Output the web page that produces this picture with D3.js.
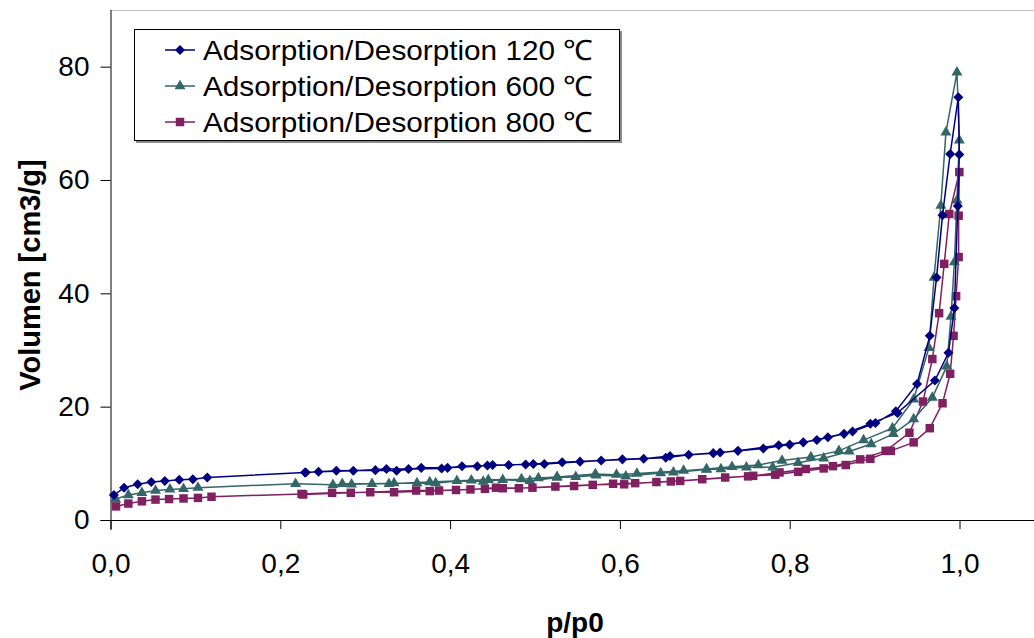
<!DOCTYPE html>
<html>
<head>
<meta charset="utf-8">
<style>
  body { margin: 0; background: #fff; }
  svg text { font-family: "Liberation Sans", Arial, sans-serif; }
</style>
<script src="https://d3js.org/d3.v7.min.js"></script>
</head>
<body>
<svg width="1034" height="638"></svg>
<script>
// series values (adsorption up, then desorption back down)
var p120 = [0.004,0.016,0.032,0.048,0.064,0.081,0.097,0.114,0.229,0.266,0.312,0.337,0.366,0.397,0.432,0.450,0.489,0.511,0.553,0.603,0.654,0.681,0.718,0.769,0.800,0.832,0.864,0.895,0.927,0.971,0.987,0.994,0.998,0.9998,0.9986,
            0.989,0.980,0.973,0.965,0.950,0.925,0.901,0.874,0.845,0.816,0.787,0.739,0.710,0.659,0.628,0.578,0.532,0.498,0.469,0.444,0.414,0.390,0.351,0.325,0.286,0.245,0.230];
var v120 = [4.4,5.7,6.3,6.7,6.9,7.1,7.2,7.5,8.4,8.7,8.8,8.7,9.2,9.2,9.5,9.7,9.8,9.9,10.3,10.7,11.0,11.5,11.9,12.6,13.3,14.1,15.2,17.0,18.9,24.6,29.5,37.4,55.4,64.5,74.6,
            64.6,53.8,42.8,32.5,24.0,19.2,17.1,15.6,14.6,13.7,13.2,12.2,11.8,11.3,10.8,10.5,10.2,9.9,9.7,9.6,9.5,9.1,9.0,9.0,8.7,8.5,8.4];

var p600 = [0.006,0.021,0.037,0.053,0.070,0.086,0.103,0.218,0.262,0.284,0.308,0.334,0.361,0.383,0.408,0.439,0.462,0.494,0.526,0.548,0.572,0.607,0.648,0.663,0.702,0.719,0.749,0.780,0.810,0.840,0.870,0.896,0.922,0.946,0.968,0.985,0.990,0.994,0.997,0.9998,0.997,
            0.984,0.978,0.970,0.964,0.946,0.921,0.887,0.858,0.825,0.791,0.763,0.732,0.702,0.675,0.620,0.596,0.571,0.526,0.504,0.484,0.445,0.425,0.376,0.328,0.273];
var v600 = [3.7,4.4,4.8,5.2,5.4,5.5,5.7,6.4,6.2,6.3,6.4,6.5,6.5,6.5,6.9,6.8,7.1,6.9,7.5,7.6,7.9,7.7,8.3,8.4,8.9,9.0,9.3,9.3,10.1,10.9,12.1,13.4,15.2,17.8,21.6,27.1,35.9,45.5,56.4,67.0,79.0,
            68.4,55.5,42.8,30.4,21.3,16.2,14.1,12.2,11.1,10.5,9.7,9.4,9.0,8.7,8.2,8.0,8.1,7.6,7.4,7.2,7.1,7.0,6.7,6.4,6.4];

var p800 = [0.0065,0.021,0.037,0.053,0.069,0.086,0.103,0.119,0.225,0.261,0.306,0.334,0.376,0.407,0.441,0.462,0.497,0.546,0.592,0.618,0.660,0.697,0.724,0.751,0.783,0.810,0.840,0.866,0.895,0.919,0.946,0.965,0.980,0.989,0.993,0.996,0.999,0.999,0.9998,
            0.988,0.982,0.976,0.968,0.957,0.941,0.913,0.883,0.851,0.819,0.788,0.757,0.671,0.643,0.605,0.568,0.524,0.481,0.454,0.424,0.387,0.360,0.283,0.227];
var v800 = [2.4,2.9,3.3,3.6,3.7,3.8,3.9,4.1,4.6,4.8,4.9,4.9,5.1,5.3,5.5,5.6,5.7,6.0,6.4,6.5,6.8,7.2,7.5,7.7,8.0,8.5,9.1,9.7,10.8,12.2,13.7,16.2,20.6,25.8,32.5,39.5,46.4,53.7,61.4,
            54.0,45.2,36.5,28.4,20.9,15.4,12.2,10.7,9.5,9.0,8.4,7.8,6.9,6.7,6.3,6.2,5.9,5.6,5.7,5.4,5.2,5.2,4.8,4.5];

var seriesNames = ["Adsorption/Desorption 120 \u2103", "Adsorption/Desorption 600 \u2103", "Adsorption/Desorption 800 \u2103"];
var seriesColors = ["#000080", "#336666", "#802060"];
var xTicks = [0, 0.2, 0.4, 0.6, 0.8, 1.0];
var yTicks = [0, 20, 40, 60, 80];

var svg = d3.select("svg");
var margin = {left: 110.5, top: 10, bottom: 520};

var x = d3.scaleLinear().domain([0, 1.2]).range([margin.left, margin.left + 1.2 * 849]);
var y = d3.scaleLinear().domain([0, 90]).range([margin.bottom, margin.top]);

// plot area top border (grey)
svg.append("line")
    .attr("x1", margin.left).attr("x2", 1034)
    .attr("y1", margin.top + 0.5).attr("y2", margin.top + 0.5)
    .attr("stroke", "#bdbdbd");

var fmt = function(d) { return d3.format(".1f")(d).replace(".", ","); };

var gx = svg.append("g")
    .attr("transform", "translate(0," + margin.bottom + ")")
    .call(d3.axisBottom(x).tickValues(xTicks).tickFormat(fmt).tickSizeInner(9).tickSizeOuter(0).tickPadding(24));
gx.select(".domain").attr("d", "M" + (margin.left - 10) + ",0.5H1034");

var gy = svg.append("g")
    .attr("transform", "translate(" + margin.left + ",0)")
    .call(d3.axisLeft(y).tickValues(yTicks).tickSizeInner(10).tickSizeOuter(0).tickPadding(11));
gy.select(".domain").attr("d", "M0.5," + margin.top + "V" + (margin.bottom + 10));

svg.selectAll(".tick text").attr("font-size", 28).attr("fill", "#000")
    .attr("font-family", "Liberation Sans, Arial, sans-serif");
svg.selectAll(".tick line").attr("stroke", "#000");
svg.selectAll(".domain").attr("stroke", "#000");

// axis titles
svg.append("text")
    .attr("x", 575).attr("y", 632)
    .attr("text-anchor", "middle")
    .attr("font-size", 28).attr("font-weight", "bold")
    .text("p/p0");
svg.append("text")
    .attr("transform", "translate(40,275) rotate(-90)")
    .attr("text-anchor", "middle")
    .attr("font-size", 29).attr("font-weight", "bold")
    .text("Volumen [cm3/g]");

var symbols = [
    d3.symbol().type(d3.symbolDiamond2).size(64),
    d3.symbol().type(d3.symbolTriangle).size(52),
    d3.symbol().type(d3.symbolSquare).size(72)
];

var series = [
    {p: p120, v: v120},
    {p: p600, v: v600},
    {p: p800, v: v800}
];

var line = d3.line()
    .x(function(d) { return x(d[0]); })
    .y(function(d) { return y(d[1]); });

// draw 800 first, then 600, then 120 on top
[2, 1, 0].forEach(function(i) {
    var pts = series[i].p.map(function(p, j) { return [p, series[i].v[j]]; });
    var g = svg.append("g");
    g.append("path")
        .datum(pts)
        .attr("fill", "none")
        .attr("stroke", seriesColors[i])
        .attr("stroke-width", 1.5)
        .attr("d", line);
    g.selectAll("path.mk")
      .data(pts)
      .enter().append("path")
        .attr("class", "mk")
        .attr("transform", function(d) { return "translate(" + x(d[0]) + "," + y(d[1]) + ")"; })
        .attr("d", symbols[i])
        .attr("fill", seriesColors[i]);
});

// legend
var lg = svg.append("g");
lg.append("rect")
    .attr("x", 136).attr("y", 31).attr("width", 486).attr("height", 112)
    .attr("fill", "#8c8c8c");
lg.append("rect")
    .attr("x", 134.5).attr("y", 29.5).attr("width", 485).attr("height", 111)
    .attr("fill", "#fff").attr("stroke", "#000");

seriesNames.forEach(function(name, i) {
    var cy = 50 + i * 36;
    lg.append("line")
        .attr("x1", 165).attr("x2", 195)
        .attr("y1", cy).attr("y2", cy)
        .attr("stroke", seriesColors[i]).attr("stroke-width", 1.5);
    lg.append("path")
        .attr("transform", "translate(180," + cy + ")")
        .attr("d", symbols[i])
        .attr("fill", seriesColors[i]);
    lg.append("text")
        .attr("x", 203).attr("y", cy + 10)
        .attr("font-size", 28)
        .attr("textLength", 390)
        .attr("lengthAdjust", "spacingAndGlyphs")
        .text(name);
});
</script>
</body>
</html>
